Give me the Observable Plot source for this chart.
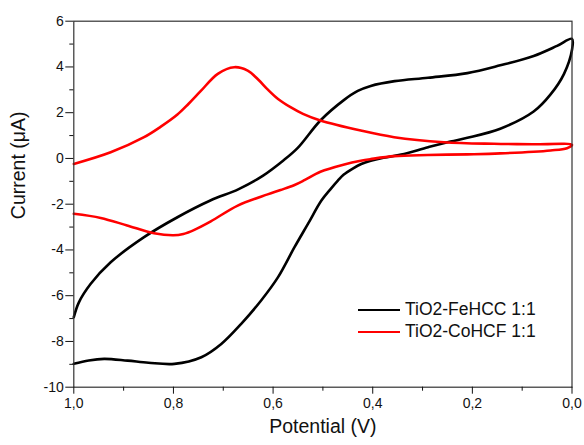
<!DOCTYPE html>
<html><head><meta charset="utf-8">
<script src="https://cdn.jsdelivr.net/npm/d3@7"></script>
<script src="https://cdn.jsdelivr.net/npm/@observablehq/plot@0.6"></script>
<style>
body{margin:0;background:#fff;}
#wrap{position:relative;width:584px;height:445px;font-family:"Liberation Sans",Arial,sans-serif;}
#legend{position:absolute;left:358px;top:299px;font-size:17.5px;line-height:21.7px;color:#111;}
.row{display:flex;align-items:center;white-space:nowrap;height:21.7px;}
.sw{display:inline-block;width:42px;height:0;border-top:2.6px solid;margin-right:5px;}
</style></head>
<body><div id="wrap"><div id="legend"></div></div>
<script>
const seriesNames = ["TiO2-FeHCC 1:1", "TiO2-CoHCF 1:1"];
const seriesColors = ["#000000", "#ff0000"];

// TiO2-FeHCC, sweep 1.0 -> 0.0 (upper branch)
const feFwdV = [1.0, 0.99, 0.966, 0.926, 0.859, 0.792, 0.726, 0.67, 0.62, 0.58, 0.551, 0.505, 0.458, 0.43, 0.404, 0.356, 0.289, 0.21, 0.144, 0.077, 0.03, 0.0];
const feFwdI = [-6.94, -6.3, -5.48, -4.54, -3.44, -2.57, -1.84, -1.35, -0.75, -0.1, 0.45, 1.66, 2.55, 2.95, 3.17, 3.38, 3.53, 3.73, 4.07, 4.48, 4.92, 5.23];
// TiO2-FeHCC, sweep 0.0 -> 1.0 (lower branch)
const feRevV = [0.0, 0.0, 0.016, 0.043, 0.077, 0.144, 0.21, 0.244, 0.289, 0.343, 0.385, 0.404, 0.423, 0.44, 0.458, 0.47, 0.485, 0.503, 0.530, 0.557, 0.590, 0.624, 0.664, 0.704, 0.744, 0.798, 0.85, 0.892, 0.939, 0.97, 1.0];
const feRevI = [5.23, 4.75, 3.70, 2.80, 2.05, 1.30, 0.90, 0.74, 0.49, 0.17, 0.0, -0.10, -0.24, -0.44, -0.70, -0.97, -1.35, -1.84, -2.86, -3.88, -5.19, -6.21, -7.23, -8.11, -8.69, -8.98, -8.93, -8.84, -8.76, -8.83, -8.98];

// TiO2-CoHCF, sweep 1.0 -> 0.0 (upper branch)
const coFwdV = [1.0, 0.926, 0.859, 0.826, 0.792, 0.77, 0.745, 0.711, 0.678, 0.651, 0.63, 0.611, 0.59, 0.565, 0.54, 0.505, 0.424, 0.357, 0.257, 0.157, 0.08, 0.0];
const coFwdI = [-0.24, 0.27, 0.93, 1.38, 1.92, 2.38, 2.95, 3.70, 3.99, 3.84, 3.45, 3.02, 2.60, 2.24, 1.95, 1.66, 1.22, 0.93, 0.71, 0.64, 0.62, 0.59];
// TiO2-CoHCF, sweep 0.0 -> 1.0 (lower branch)
const coRevV = [0.0, 0.01, 0.043, 0.144, 0.21, 0.29, 0.357, 0.404, 0.424, 0.457, 0.505, 0.537, 0.558, 0.585, 0.611, 0.671, 0.725, 0.758, 0.78, 0.80, 0.839, 0.893, 0.946, 1.0];
const coRevI = [0.59, 0.45, 0.35, 0.22, 0.18, 0.15, 0.10, -0.03, -0.10, -0.26, -0.58, -0.95, -1.17, -1.38, -1.57, -2.06, -2.75, -3.12, -3.30, -3.36, -3.27, -2.93, -2.60, -2.42];

const xMajor = [1.0, 0.8, 0.6, 0.4, 0.2, 0.0];
const xMinor = [0.9, 0.7, 0.5, 0.3, 0.1];
const yMajor = [-10, -8, -6, -4, -2, 0, 2, 4, 6];
const yMinor = [-9, -7, -5, -3, -1, 1, 3, 5];
const xTitle = "Potential (V)";
const yTitle = "Current (\u03BCA)";

const branches = [
  {series: seriesNames[0], key: "fe", V: [...feFwdV, ...feRevV.slice(1)], I: [...feFwdI, ...feRevI.slice(1)]},
  {series: seriesNames[1], key: "co", V: [...coFwdV, ...coRevV.slice(1)], I: [...coFwdI, ...coRevI.slice(1)]}
];
const rows = branches.flatMap(b => b.V.map((v, i) => ({series: b.series, key: b.key, V: v, I: b.I[i]})));

const chart = Plot.plot({
  width: 584, height: 445,
  marginLeft: 73.3, marginRight: 12.5, marginTop: 20.7, marginBottom: 58.3,
  x: {domain: [1, 0]},
  y: {domain: [-10, 6]},
  color: {domain: seriesNames, range: seriesColors},
  style: {fontFamily: "'Liberation Sans', Arial, sans-serif", background: "#fff", color: "#111"},
  marks: [
    Plot.line(rows, {x: "V", y: "I", z: "key", stroke: "series", strokeWidth: 2.6, curve: "catmull-rom"}),
    Plot.frame({stroke: "#333", strokeWidth: 1.2}),
    Plot.axisX({ticks: xMajor, tickSize: 7, tickPadding: 4, tickFormat: d => d.toFixed(1).replace(".", ","), fontSize: 14, label: null}),
    Plot.axisX({ticks: xMinor, tickSize: 4, tickFormat: () => "", label: null}),
    Plot.axisY({ticks: yMajor, tickSize: 8, tickPadding: 2, tickFormat: d => String(d), fontSize: 14, label: null}),
    Plot.axisY({ticks: yMinor, tickSize: 4, tickFormat: () => "", label: null}),
    Plot.text([xTitle], {frameAnchor: "bottom", dy: 46, fontSize: 19.5, text: d => d}),
    Plot.text([yTitle], {frameAnchor: "left", rotate: -90, dx: -55, dy: 15, fontSize: 19.5, text: d => d})
  ]
});
document.getElementById("wrap").prepend(chart);

const legend = document.getElementById("legend");
seriesNames.forEach((name, i) => {
  const row = document.createElement("div");
  row.className = "row";
  const sw = document.createElement("span");
  sw.className = "sw";
  sw.style.borderTopColor = seriesColors[i];
  row.appendChild(sw);
  row.appendChild(document.createTextNode(name));
  legend.appendChild(row);
});
</script>
</body></html>
